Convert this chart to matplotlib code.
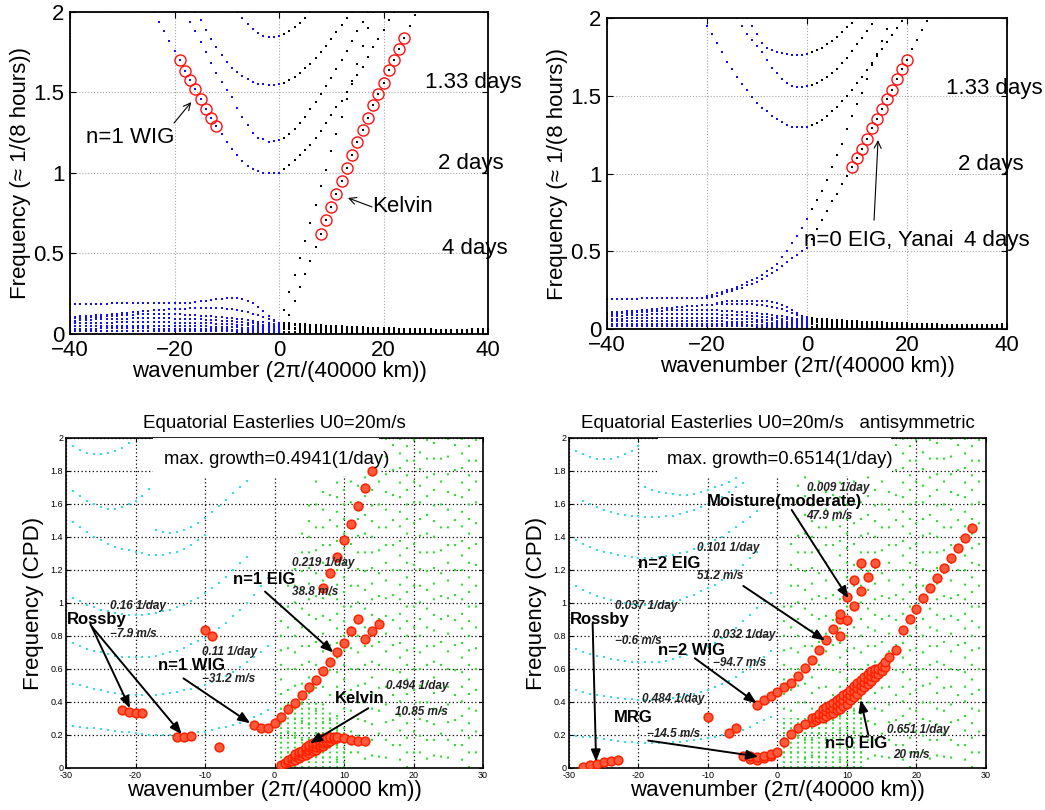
import numpy as np
import matplotlib.pyplot as plt
from matplotlib.patches import Rectangle

plt.rcParams['font.family'] = ['Liberation Sans', 'DejaVu Sans']

# every curve: (first wavenumber, frequencies at consecutive integer wavenumbers)

# ---------------- top left: symmetric shallow-water modes ----------------
tl_wig = [
    (-24, [2.00, 1.94, 1.88, 1.82, 1.76, 1.70, 1.635, 1.58, 1.52, 1.46, 1.40, 1.34, 1.29,
           1.24, 1.19, 1.15, 1.11, 1.075, 1.045, 1.025, 1.01, 1.0, 1.0, 1.0, 1.0]),
    (-18, [2.0, 1.94, 1.88, 1.815, 1.75, 1.685, 1.62, 1.565, 1.515, 1.47, 1.405, 1.345,
           1.30, 1.25, 1.22, 1.21, 1.195, 1.20, 1.205]),
    (-16, [2.0, 1.95, 1.89, 1.83, 1.78, 1.73, 1.69, 1.65, 1.63, 1.60, 1.585, 1.565, 1.555,
           1.55, 1.545, 1.545, 1.55]),
    (-8, [2.0, 1.96, 1.925, 1.895, 1.87, 1.85, 1.845, 1.845, 1.85]),
    (-40, [0.187, 0.187, 0.188, 0.188, 0.188, 0.189, 0.189, 0.189, 0.19, 0.19, 0.19,
           0.19, 0.19, 0.19, 0.19, 0.19, 0.19, 0.19, 0.19, 0.19, 0.19, 0.19,
           0.19, 0.195, 0.20, 0.203, 0.206, 0.21, 0.215, 0.22, 0.225, 0.225, 0.222,
           0.215, 0.205, 0.19, 0.17, 0.14, 0.11, 0.085, 0.07]),
]
tl_eig = [
    (1, [1.025, 1.05, 1.08, 1.11, 1.14, 1.175, 1.215, 1.26, 1.31, 1.36, 1.41, 1.45, 1.50,
         1.55, 1.61, 1.66, 1.72, 1.78, 1.83, 1.89, 1.95, 2.0]),
    (1, [1.22, 1.245, 1.275, 1.31, 1.35, 1.395, 1.44, 1.49, 1.54, 1.59, 1.645, 1.70, 1.76,
         1.82, 1.88, 1.94, 2.0]),
    (1, [1.56, 1.575, 1.595, 1.62, 1.65, 1.68, 1.715, 1.75, 1.79, 1.83, 1.875, 1.92, 1.965, 2.0]),
    (1, [1.865, 1.88, 1.905, 1.93, 1.965, 2.0]),
    (1, [0.15, 0.26, 0.365, 0.47, 0.58, 0.69, 0.80, 0.92, 1.02, 1.135, 1.24, 1.35, 1.46,
         1.57, 1.68, 1.79, 1.90, 2.0]),
]
tl_kelvin = (2, [0.12, 0.205, 0.29, 0.37, 0.455, 0.54, 0.62, 0.71, 0.79, 0.87, 0.95, 1.03,
                 1.11, 1.19, 1.27, 1.34, 1.42, 1.49, 1.56, 1.64, 1.70, 1.77, 1.84, 1.91, 1.98])
tl_wig_circles = list(range(-19, -11))
tl_kelvin_circles = list(range(8, 25))

# ---------------- top right: antisymmetric modes ----------------
tr_wig = [
    (-21, [2.0, 1.95, 1.90, 1.84, 1.78, 1.72, 1.67, 1.62, 1.575, 1.535, 1.495, 1.455,
           1.42, 1.40, 1.37, 1.35, 1.33, 1.313, 1.302, 1.298, 1.298, 1.30]),
    (-14, [2.0, 1.95, 1.90, 1.86, 1.82, 1.78, 1.73, 1.68, 1.645, 1.605, 1.58, 1.563,
           1.555, 1.553, 1.56]),
    (-12, [2.0, 1.95, 1.895, 1.84, 1.81, 1.795, 1.78, 1.773, 1.768, 1.762, 1.762, 1.765, 1.768]),
    (-40, [0.195, 0.195, 0.195, 0.196, 0.196, 0.196, 0.196, 0.197, 0.197, 0.197,
           0.197, 0.197, 0.197, 0.197, 0.197, 0.197, 0.197, 0.197, 0.198, 0.198]),
    (-18, [0.17, 0.174, 0.178, 0.18, 0.182, 0.183, 0.183, 0.183, 0.182, 0.18, 0.178,
           0.172, 0.165, 0.155, 0.14, 0.12, 0.10, 0.085, 0.075]),
    (-20, [0.21, 0.22, 0.23, 0.24, 0.25, 0.26, 0.27, 0.285, 0.30, 0.315, 0.33, 0.35,
           0.37, 0.39, 0.42, 0.46, 0.50, 0.55, 0.60, 0.65, 0.71]),
    (-20, [0.20, 0.205, 0.215, 0.225, 0.235, 0.245, 0.255, 0.265, 0.28, 0.29, 0.305,
           0.32, 0.34, 0.36, 0.38, 0.405, 0.43, 0.455, 0.475, 0.50, 0.52]),
]
tr_eig = [
    (1, [1.31, 1.325, 1.345, 1.37, 1.40, 1.43, 1.465, 1.50, 1.54, 1.58, 1.62, 1.665, 1.71,
         1.755, 1.80, 1.845, 1.89, 1.935, 1.98]),
    (1, [1.57, 1.585, 1.60, 1.62, 1.645, 1.675, 1.71, 1.745, 1.785, 1.83, 1.87, 1.915, 1.96, 2.0]),
    (1, [1.78, 1.795, 1.81, 1.83, 1.855, 1.88, 1.91, 1.94, 1.97, 2.0]),
    (1, [0.77, 0.83, 0.89, 0.96, 1.04, 1.12, 1.19, 1.285, 1.37, 1.45, 1.52, 1.61, 1.70,
         1.77, 1.85, 1.93, 2.0]),
]
tr_yanai = (1, [0.58, 0.64, 0.70, 0.76, 0.82, 0.87, 0.93, 0.985, 1.04, 1.10, 1.16, 1.22,
                1.29, 1.35, 1.415, 1.48, 1.54, 1.605, 1.67, 1.73, 1.80, 1.86, 1.92, 1.98])
tr_yanai_circles = list(range(9, 21))

# low-frequency bands seen in both top panels
band_west = [
    (-40, [0.105, 0.107, 0.109, 0.111, 0.113, 0.115, 0.117, 0.120, 0.123, 0.126,
           0.129, 0.132, 0.135, 0.138, 0.141, 0.144, 0.146, 0.148, 0.150, 0.152,
           0.154, 0.156, 0.158, 0.160, 0.161, 0.162, 0.163, 0.163, 0.162, 0.160,
           0.157, 0.153, 0.148, 0.142, 0.135, 0.126, 0.115, 0.103, 0.090, 0.078, 0.070]),
    (-40, [0.095, 0.097, 0.099, 0.101, 0.103, 0.105, 0.108, 0.110, 0.112, 0.114,
           0.116, 0.118, 0.120, 0.122, 0.123, 0.124, 0.125, 0.125, 0.125, 0.124,
           0.123, 0.122, 0.120, 0.118, 0.116, 0.114, 0.112, 0.110, 0.107, 0.104,
           0.101, 0.098, 0.094, 0.090, 0.086, 0.082, 0.077, 0.072, 0.067, 0.062, 0.058]),
    (-40, [0.080, 0.082, 0.084, 0.086, 0.088, 0.090, 0.091, 0.092, 0.093, 0.094,
           0.095, 0.096, 0.097, 0.097, 0.098, 0.098, 0.098, 0.098, 0.097, 0.097,
           0.096, 0.095, 0.094, 0.093, 0.092, 0.091, 0.089, 0.087, 0.085, 0.083,
           0.081, 0.078, 0.075, 0.072, 0.069, 0.066, 0.062, 0.058, 0.054, 0.050, 0.046]),
    (-40, [0.064, 0.065, 0.066, 0.067, 0.068, 0.069, 0.070, 0.071, 0.071, 0.072,
           0.072, 0.073, 0.073, 0.073, 0.073, 0.073, 0.073, 0.073, 0.072, 0.072,
           0.071, 0.070, 0.070, 0.069, 0.068, 0.067, 0.066, 0.065, 0.064, 0.062,
           0.061, 0.059, 0.057, 0.055, 0.053, 0.051, 0.048, 0.045, 0.042, 0.039, 0.035]),
    (-40, [0.048, 0.049, 0.049, 0.050, 0.050, 0.051, 0.051, 0.051, 0.052, 0.052,
           0.052, 0.052, 0.052, 0.052, 0.052, 0.052, 0.052, 0.051, 0.051, 0.051,
           0.050, 0.050, 0.049, 0.049, 0.048, 0.048, 0.047, 0.046, 0.045, 0.044,
           0.043, 0.042, 0.041, 0.039, 0.038, 0.036, 0.034, 0.032, 0.030, 0.027, 0.024]),
    (-40, [0.032, 0.032, 0.033, 0.033, 0.033, 0.033, 0.034, 0.034, 0.034, 0.034,
           0.034, 0.034, 0.034, 0.034, 0.034, 0.034, 0.033, 0.033, 0.033, 0.033,
           0.033, 0.032, 0.032, 0.032, 0.031, 0.031, 0.030, 0.030, 0.029, 0.029,
           0.028, 0.027, 0.026, 0.025, 0.024, 0.023, 0.022, 0.020, 0.019, 0.017, 0.015]),
    (-40, [0.019, 0.019, 0.019, 0.019, 0.020, 0.020, 0.020, 0.020, 0.020, 0.020,
           0.020, 0.020, 0.020, 0.020, 0.020, 0.020, 0.020, 0.020, 0.019, 0.019,
           0.019, 0.019, 0.019, 0.018, 0.018, 0.018, 0.018, 0.017, 0.017, 0.017,
           0.016, 0.016, 0.015, 0.015, 0.014, 0.013, 0.013, 0.012, 0.011, 0.010, 0.008]),
]
band_east = [
    (1, [0.068, 0.066, 0.064, 0.062, 0.060, 0.058, 0.056, 0.054, 0.052,
         0.050, 0.048, 0.047, 0.045, 0.044, 0.042, 0.041, 0.040, 0.038, 0.037,
         0.036, 0.035, 0.034, 0.033, 0.032, 0.031, 0.030, 0.029, 0.028, 0.028,
         0.027, 0.027, 0.026, 0.026, 0.026, 0.026, 0.027, 0.028, 0.029, 0.030, 0.032]),
    (1, [0.058, 0.056, 0.054, 0.052, 0.050, 0.048, 0.046, 0.044, 0.042,
         0.040, 0.039, 0.037, 0.036, 0.034, 0.033, 0.032, 0.031, 0.030, 0.029,
         0.028, 0.027, 0.026, 0.025, 0.024, 0.023, 0.022, 0.022, 0.021, 0.021,
         0.020, 0.020, 0.020, 0.020, 0.020, 0.020, 0.020, 0.021, 0.021, 0.022, 0.022]),
    (1, [0.044, 0.042, 0.040, 0.038, 0.036, 0.035, 0.033, 0.032, 0.031,
         0.030, 0.029, 0.028, 0.027, 0.026, 0.025, 0.024, 0.023, 0.022, 0.021,
         0.020, 0.019, 0.018, 0.018, 0.017, 0.017, 0.016, 0.016, 0.015, 0.015,
         0.015, 0.014, 0.014, 0.014, 0.014, 0.014, 0.014, 0.014, 0.015, 0.015, 0.015]),
    (1, [0.030, 0.029, 0.028, 0.027, 0.026, 0.025, 0.024, 0.023, 0.022,
         0.021, 0.020, 0.019, 0.018, 0.018, 0.017, 0.016, 0.016, 0.015, 0.015,
         0.014, 0.014, 0.013, 0.013, 0.012, 0.012, 0.011, 0.011, 0.011, 0.010,
         0.010, 0.010, 0.010, 0.009, 0.009, 0.009, 0.009, 0.009, 0.009, 0.009, 0.009]),
    (1, [0.015, 0.014, 0.014, 0.013, 0.013, 0.012, 0.012, 0.011, 0.011,
         0.010, 0.010, 0.010, 0.009, 0.009, 0.009, 0.008, 0.008, 0.008, 0.007,
         0.007, 0.007, 0.007, 0.006, 0.006, 0.006, 0.006, 0.005, 0.005, 0.005,
         0.005, 0.005, 0.005, 0.005, 0.004, 0.004, 0.004, 0.004, 0.004, 0.004, 0.004]),
]

# ---------------- bottom left: easterlies, symmetric ----------------
bl_cyan = [
    (-30, [1.98, 1.95, 1.93, 1.91, 1.90, 1.90, 1.91, 1.92, 1.94, 1.97, 2.0]),
    (-30, [1.72, 1.68, 1.65, 1.62, 1.60, 1.58, 1.57, 1.57, 1.58, 1.60, 1.62, 1.65, 1.69]),
    (-17, [1.44, 1.43, 1.425, 1.43, 1.44, 1.46, 1.485, 1.515, 1.55, 1.585, 1.625, 1.665,
           1.705, 1.74, 1.775, 1.80]),
    (-29, [1.49, 1.46, 1.43, 1.40, 1.38, 1.36, 1.34, 1.33, 1.32, 1.31, 1.30, 1.29, 1.29,
           1.29, 1.30, 1.31, 1.33, 1.35, 1.38, 1.41]),
    (-30, [1.05, 1.03, 1.01, 0.99, 0.975, 0.96, 0.95, 0.94, 0.935, 0.93, 0.93, 0.93, 0.935,
           0.94, 0.95, 0.96, 0.975, 0.99, 1.01, 1.03, 1.06, 1.09, 1.12, 1.16, 1.20, 1.24, 1.28]),
    (-30, [0.78, 0.76, 0.74, 0.72, 0.71, 0.70, 0.69, 0.68, 0.675, 0.67, 0.67, 0.67, 0.675,
           0.68, 0.69, 0.70, 0.71, 0.73, 0.75, 0.77, 0.79, 0.82, 0.85, 0.88, 0.92, 0.96, 1.0,
           1.05, 1.10, 1.15]),
    (-30, [0.52, 0.51, 0.50, 0.49, 0.48, 0.47, 0.46, 0.455, 0.45, 0.445, 0.44, 0.44, 0.44,
           0.445, 0.45, 0.455, 0.46, 0.47, 0.48, 0.49, 0.50, 0.52, 0.54, 0.56, 0.58, 0.61,
           0.64, 0.67, 0.70, 0.74]),
    (-30, [0.26, 0.255, 0.25, 0.245, 0.24, 0.235, 0.23, 0.225, 0.22, 0.215, 0.21, 0.205,
           0.20, 0.20, 0.20, 0.20, 0.20, 0.205, 0.21, 0.215, 0.22, 0.23, 0.24, 0.25, 0.26,
           0.27, 0.29, 0.31, 0.33, 0.35]),
]
bl_green_k = list(range(1, 30))
bl_green_top = [1.0, 1.15, 1.3, 1.5, 1.65, 1.8, 2.0, 2.0, 2.0, 2.0, 2.0, 2.0, 2.0, 2.0, 2.0,
                2.0, 2.0, 2.0, 2.0, 2.0, 2.0, 2.0, 2.0, 2.0, 2.0, 2.0, 2.0, 2.0, 2.0]
bl_gbar_k = list(range(1, 11))
bl_gbar_top = [0.36, 0.40, 0.42, 0.43, 0.42, 0.40, 0.38, 0.34, 0.30, 0.26]

bl_red_k = [-22, -21, -20, -19, -14, -13, -12, -10, -9, -8,
            -3, -2, -1, 0, 1, 2, 3, 4, 5, 6, 7, 8, 9,
            10, 11, 12, 13, 14, 15, 7, 8, 9, 10, 11, 12, 13, 14, 10, 11, 12, 13]
bl_red_f = [0.35, 0.34, 0.335, 0.335, 0.19, 0.19, 0.195, 0.835, 0.80, 0.125,
            0.26, 0.245, 0.245, 0.27, 0.31, 0.355, 0.395, 0.44, 0.49, 0.535, 0.585, 0.64, 0.70,
            0.76, 0.83, 0.90, 0.78, 0.83, 0.875, 1.09, 1.18, 1.28, 1.38, 1.48, 1.59, 1.695, 1.80,
            0.18, 0.17, 0.165, 0.165]
bl_blob_k = [1, 1.5, 2, 2, 2.5, 2.5, 3, 3, 3, 3.5, 3.5, 3.5, 4, 4, 4, 4.5, 4.5, 4.5, 4.5,
             5, 5, 5, 5, 5.5, 5.5, 5.5, 5.5, 6, 6, 6, 6, 6.5, 6.5, 6.5, 6.5, 7, 7, 7, 7,
             7.5, 7.5, 7.5, 8, 8, 8, 8.5, 8.5, 9, 9]
bl_blob_f = [0.02, 0.03, 0.035, 0.05, 0.045, 0.06, 0.05, 0.07, 0.085, 0.06, 0.08, 0.095,
             0.07, 0.09, 0.105, 0.08, 0.10, 0.115, 0.13, 0.09, 0.11, 0.125, 0.14,
             0.10, 0.12, 0.135, 0.15, 0.11, 0.13, 0.145, 0.16, 0.125, 0.14, 0.155, 0.17,
             0.135, 0.15, 0.165, 0.18, 0.15, 0.165, 0.18, 0.165, 0.18, 0.19, 0.175, 0.19,
             0.18, 0.19]

# ---------------- bottom right: easterlies, antisymmetric ----------------
br_cyan = [
    (-30, [1.95, 1.92, 1.90, 1.885, 1.875, 1.87, 1.875, 1.885, 1.90, 1.92, 1.95]),
    (-19, [1.70, 1.685, 1.675, 1.665, 1.66, 1.655, 1.655, 1.66, 1.67, 1.685, 1.70, 1.715,
           1.735, 1.755, 1.775, 1.80, 1.825, 1.85]),
    (-28, [1.62, 1.60, 1.58, 1.565, 1.55, 1.54, 1.535, 1.53, 1.525, 1.52, 1.52, 1.52,
           1.525, 1.53, 1.54, 1.55, 1.565, 1.58, 1.60, 1.62, 1.645, 1.67, 1.70, 1.73]),
    (-30, [1.40, 1.38, 1.36, 1.34, 1.32, 1.31, 1.30, 1.29, 1.285, 1.28, 1.275, 1.275, 1.275,
           1.28, 1.285, 1.29, 1.30, 1.31, 1.325, 1.34, 1.36, 1.38, 1.40, 1.43, 1.46, 1.49,
           1.52, 1.56]),
    (-30, [1.12, 1.10, 1.08, 1.06, 1.045, 1.03, 1.02, 1.01, 1.0, 0.995, 0.99, 0.99, 0.99,
           0.995, 1.0, 1.01, 1.02, 1.035, 1.05, 1.07, 1.09, 1.11, 1.14, 1.17, 1.20, 1.23,
           1.27, 1.31]),
    (-30, [0.74, 0.72, 0.70, 0.69, 0.68, 0.67, 0.66, 0.655, 0.65, 0.645, 0.64, 0.64, 0.64,
           0.645, 0.65, 0.66, 0.67, 0.685, 0.70, 0.72, 0.74, 0.76, 0.79, 0.82, 0.85, 0.89,
           0.93, 0.97, 1.01, 1.06]),
    (-30, [0.48, 0.47, 0.46, 0.45, 0.44, 0.435, 0.43, 0.425, 0.42, 0.415, 0.41, 0.41, 0.41,
           0.415, 0.42, 0.425, 0.43, 0.44, 0.45, 0.46, 0.475, 0.49, 0.51, 0.53, 0.55, 0.58,
           0.61, 0.64, 0.67, 0.71]),
    (-30, [0.20, 0.195, 0.19, 0.185, 0.18, 0.175, 0.17, 0.165, 0.16, 0.155, 0.15, 0.15, 0.15,
           0.15, 0.15, 0.155, 0.16, 0.165, 0.17, 0.175, 0.18, 0.19, 0.20, 0.21, 0.22, 0.23,
           0.25, 0.27, 0.29, 0.31]),
]
br_green_k = list(range(1, 30))
br_green_top = [1.0, 1.4, 1.9, 2.0, 2.0, 2.0, 2.0, 2.0, 2.0, 2.0, 2.0, 2.0, 2.0, 2.0, 2.0,
                2.0, 2.0, 2.0, 2.0, 2.0, 2.0, 2.0, 2.0, 2.0, 2.0, 2.0, 2.0, 2.0, 2.0]
br_gbar_k = list(range(1, 13))
br_gbar_top = [0.30, 0.30, 0.30, 0.30, 0.30, 0.32, 0.34, 0.36, 0.38, 0.40, 0.42, 0.44]

br_red_k = [-28, -27, -26, -25, -24, -23, -10, -7, -6,
            -5, -4, -4, -3, -3, -2, -2, -1, -1, 0, 1, 2, 3, 4,
            16, 17, 18, 19, 20, 21, 22, 23, 24, 25, 26, 27, 28,
            -3, -2, -1, 0, 1, 2, 3, 4, 5, 6, 7,
            8, 9, 9, 9, 10, 10, 11, 11, 12, 12, 13, 14]
br_red_f = [0.005, 0.015, 0.025, 0.035, 0.042, 0.048, 0.31, 0.21, 0.245,
            0.073, 0.053, 0.07, 0.048, 0.065, 0.059, 0.075, 0.073, 0.085, 0.099,
            0.156, 0.204, 0.24, 0.265,
            0.675, 0.715, 0.835, 0.90, 0.965, 1.03, 1.09, 1.15, 1.21, 1.275, 1.335, 1.395, 1.455,
            0.38, 0.41, 0.435, 0.46, 0.49, 0.515, 0.56, 0.605, 0.655, 0.715, 0.775,
            0.84, 0.80, 0.90, 0.935, 0.895, 1.035, 0.98, 1.14, 1.07, 1.24, 1.155, 1.24]
br_blob_k = [5, 5, 5.5, 5.5, 6, 6, 6.5, 6.5, 6.5, 7, 7, 7, 7.5, 7.5, 7.5, 8, 8, 8,
             8.5, 8.5, 8.5, 9, 9, 9, 9.5, 9.5, 9.5, 10, 10, 10, 10.5, 10.5, 10.5,
             11, 11, 11, 11.5, 11.5, 11.5, 12, 12, 12, 12.5, 12.5, 12.5, 13, 13, 13,
             13.5, 13.5, 13.5, 14, 14, 14, 14.5, 14.5, 15, 15, 15.5, 15.5]
br_blob_f = [0.28, 0.30, 0.29, 0.31, 0.30, 0.33, 0.30, 0.33, 0.355, 0.315, 0.345, 0.37,
             0.325, 0.355, 0.38, 0.335, 0.365, 0.395, 0.35, 0.38, 0.41, 0.36, 0.395, 0.425,
             0.375, 0.41, 0.44, 0.39, 0.425, 0.455, 0.41, 0.445, 0.475, 0.43, 0.465, 0.495,
             0.45, 0.485, 0.515, 0.47, 0.505, 0.535, 0.49, 0.52, 0.55, 0.51, 0.54, 0.57,
             0.53, 0.56, 0.585, 0.55, 0.575, 0.60, 0.57, 0.60, 0.59, 0.62, 0.61, 0.64]

# text labels: (text, wavenumber, frequency, kind)
bl_labels = [
    ('0.219 1/day', 2.47, 1.24, 's'), ('n=1 EIG', -5.93, 1.14, 'm'),
    ('38.8 m/s', 2.47, 1.069, 's'), ('0.16 1/day', -23.7, 0.982, 's'),
    ('Rossby', -29.9, 0.897, 'm'), ('\u22127.9 m/s', -23.7, 0.81, 's'),
    ('0.11 1/day', -10.5, 0.70, 's'), ('n=1 WIG', -16.7, 0.618, 'm'),
    ('\u221231.2 m/s', -10.5, 0.537, 's'), ('0.494 1/day', 16.1, 0.499, 's'),
    ('Kelvin', 8.7, 0.418, 'm'), ('10.85 m/s', 17.3, 0.341, 's'),
]
bl_arrows = [((-26.5, 0.873), (-20.8, 0.362)), ((-26.3, 0.857), (-13.35, 0.204)),
             ((-1.37, 1.069), (8.46, 0.70)), ((-13.1, 0.543), (-3.5, 0.271)),
             ((13.5, 0.362), (5.1, 0.15))]
br_labels = [
    ('0.009 1/day', 4.2, 1.695, 's'), ('Moisture(moderate)', -10.2, 1.614, 'm'),
    ('47.9 m/s', 4.2, 1.527, 's'), ('0.101 1/day', -11.6, 1.331, 's'),
    ('n=2 EIG', -20.0, 1.24, 'm'), ('51.2 m/s', -11.6, 1.164, 's'),
    ('0.037 1/day', -23.4, 0.982, 's'), ('Rossby', -29.86, 0.897, 'm'),
    ('0.032 1/day', -9.24, 0.806, 's'), ('\u22120.6 m/s', -23.4, 0.772, 's'),
    ('n=2 WIG', -17.15, 0.711, 'm'), ('\u221294.7 m/s', -9.24, 0.634, 's'),
    ('0.484 1/day', -19.5, 0.416, 's'), ('MRG', -23.6, 0.307, 'm'),
    ('\u221214.5 m/s', -18.8, 0.204, 's'), ('0.651 1/day', 15.7, 0.23, 's'),
    ('n=0 EIG', 6.83, 0.15, 'm'), ('20 m/s', 16.7, 0.079, 's'),
]
br_arrows = [((2.04, 1.564), (10.2, 1.028)), ((-4.92, 1.103), (6.83, 0.772)),
             ((-11.9, 0.665), (-3.0, 0.392)), ((-26.6, 0.877), (-26.1, 0.038)),
             ((-18.6, 0.166), (-2.76, 0.069)), ((13.07, 0.20), (11.97, 0.412))]

# irregular dot spacing for the green columns (style only)
green_styles = [(0, (1, 6)), (3, (1, 9)), (1, (1, 7)), (5, (1, 8)), (2, (1, 6.5)),
                (6, (1, 10)), (4, (1, 7.5)), (1.5, (1, 11)), (3.5, (1, 6))]


def curve_xy(curve):
    k0, vals = curve
    return np.arange(k0, k0 + len(vals)), np.array(vals)


def lookup(curve, ks):
    k0, vals = curve
    return [vals[k - k0] for k in ks]


def dots(ax, curves, color, ms=1.7, z=2):
    for c in curves:
        k, f = curve_xy(c)
        ax.plot(k, f, ls='none', marker='s', ms=ms, mew=0, color=color, zorder=z)


def setup_top(ax):
    ax.set_xlim(-40, 40)
    ax.set_ylim(0, 2)
    ax.set_xticks([-40, -20, 0, 20, 40])
    ax.set_xticklabels(['\u221240', '\u221220', '0', '20', '40'])
    ax.set_yticks([0, 0.5, 1, 1.5, 2])
    ax.set_yticklabels(['0', '0.5', '1', '1.5', '2'])
    ax.tick_params(direction='in', length=4, labelsize=16, top=True, right=True, pad=4)
    ax.grid(True, color='#a8a8a8', ls=':', lw=0.8)
    ax.set_axisbelow(True)
    for s in ax.spines.values():
        s.set_linewidth(1.3)
    ax.set_xlabel('wavenumber (2\u03c0/(40000 km))', fontsize=16, labelpad=0)
    ax.set_ylabel('Frequency (\u2248 1/(8 hours))', fontsize=16, labelpad=2)


def setup_bottom(ax, title):
    ax.set_xlim(-30, 30)
    ax.set_ylim(0, 2)
    ax.set_xticks(range(-30, 31, 10))
    ax.set_xticklabels(['-30', '-20', '-10', '0', '10', '20', '30'])
    yt = [0, 0.2, 0.4, 0.6, 0.8, 1, 1.2, 1.4, 1.6, 1.8, 2]
    ax.set_yticks(yt)
    ax.set_yticklabels(['0', '0.2', '0.4', '0.6', '0.8', '1', '1.2', '1.4', '1.6', '1.8', '2'])
    ax.tick_params(direction='in', length=3, labelsize=6.5, top=True, right=True, pad=2)
    ax.grid(True, color='k', ls=(0, (1, 2)), lw=0.9)
    ax.set_axisbelow(True)
    for s in ax.spines.values():
        s.set_linewidth(1.2)
    ax.set_title(title, fontsize=13.5, pad=7)
    ax.set_xlabel('wavenumber (2\u03c0/(40000 km))', fontsize=16, labelpad=0)
    ax.set_ylabel('Frequency (CPD)', fontsize=16, labelpad=5)


def bottom_marks(ax, cyan, gk, gtop, bk, btop, rk, rf, blk, blf):
    for i, (k, t) in enumerate(zip(gk, gtop)):
        ax.vlines(k, 0, t, colors='#2ee02e', lw=1.5,
                  linestyles=[green_styles[i % len(green_styles)]], zorder=1)
    ax.vlines(bk, 0, btop, colors='#2ee02e', lw=1.4, linestyles=[(0, (1, 1.5))], zorder=1)
    dots(ax, cyan, '#30dcee', ms=2.0, z=1.5)
    ax.plot(blk, blf, ls='none', marker='o', ms=6.3, mfc='#ff5a3c', mec='#ff2200', mew=1.1, zorder=6)
    ax.plot(rk, rf, ls='none', marker='o', ms=6.3, mfc='#ff5a3c', mec='#ff2200', mew=1.1, zorder=6)


def bottom_text(ax, labels, arrows, growth, gx, box):
    ax.add_patch(Rectangle((box[0], 1.77), box[1] - box[0], 0.24, fc='white', ec='none', zorder=4))
    ax.text(gx, 1.871, growth, ha='center', va='center', fontsize=13.3, zorder=7)
    for txt, x, y, kind in labels:
        if kind == 'm':
            ax.text(x, y, txt, fontsize=12, fontweight='bold', va='center', zorder=7)
        else:
            ax.text(x, y, txt, fontsize=8.5, fontweight='bold', style='italic', va='center',
                    color='#222222', zorder=7)
    for tail, tip in arrows:
        ax.annotate('', xy=tip, xytext=tail, zorder=8,
                    arrowprops=dict(arrowstyle='-|>,head_length=0.7,head_width=0.28', lw=1.4,
                                    color='k', shrinkA=0, shrinkB=0))


fig = plt.figure(figsize=(10.45, 8.1), dpi=100)
ax_tl = fig.add_axes([0.0670, 0.5877, 0.4000, 0.3975])
ax_tr = fig.add_axes([0.5809, 0.5938, 0.3828, 0.3840])
ax_bl = fig.add_axes([0.0632, 0.0519, 0.3990, 0.4074])
ax_br = fig.add_axes([0.5445, 0.0519, 0.3990, 0.4074])

arrow_thin = dict(arrowstyle='->,head_length=0.5,head_width=0.25', lw=0.8, color='k',
                  shrinkA=0, shrinkB=0)

# top left
setup_top(ax_tl)
dots(ax_tl, tl_wig + band_west, '#1010ff')
dots(ax_tl, tl_eig + [tl_kelvin] + band_east, 'k')
ax_tl.plot(tl_wig_circles, lookup(tl_wig[0], tl_wig_circles), ls='none', marker='o', ms=8,
           mfc='none', mec='#ff1010', mew=1.0, zorder=3)
ax_tl.plot(tl_kelvin_circles, lookup(tl_kelvin, tl_kelvin_circles), ls='none', marker='o', ms=8,
           mfc='none', mec='#ff1010', mew=1.0, zorder=3)
ax_tl.text(-36.9, 1.22, 'n=1 WIG', fontsize=16, va='center')
ax_tl.annotate('', xy=(-16.8, 1.44), xytext=(-20.1, 1.31), arrowprops=arrow_thin)
ax_tl.text(17.9, 0.79, 'Kelvin', fontsize=16, va='center')
ax_tl.annotate('', xy=(13.2, 0.845), xytext=(17.8, 0.789), arrowprops=arrow_thin)
ax_tl.text(27.9, 1.56, '1.33 days', fontsize=16, va='center')
ax_tl.text(30.4, 1.06, '2 days', fontsize=16, va='center')
ax_tl.text(31.1, 0.53, '4 days', fontsize=16, va='center')

# top right
setup_top(ax_tr)
dots(ax_tr, tr_wig + band_west, '#1010ff')
dots(ax_tr, tr_eig + [tr_yanai] + band_east, 'k')
ax_tr.plot(tr_yanai_circles, lookup(tr_yanai, tr_yanai_circles), ls='none', marker='o', ms=8,
           mfc='none', mec='#ff1010', mew=1.0, zorder=3)
ax_tr.text(-0.6, 0.572, 'n=0 EIG, Yanai', fontsize=16, va='center')
ax_tr.annotate('', xy=(14.2, 1.215), xytext=(13.4, 0.70), arrowprops=arrow_thin)
ax_tr.text(27.8, 1.548, '1.33 days', fontsize=16, va='center')
ax_tr.text(30.1, 1.06, '2 days', fontsize=16, va='center')
ax_tr.text(31.3, 0.572, '4 days', fontsize=16, va='center')

# bottom left
setup_bottom(ax_bl, 'Equatorial Easterlies U0=20m/s')
bottom_marks(ax_bl, bl_cyan, bl_green_k, bl_green_top, bl_gbar_k, bl_gbar_top,
             bl_red_k, bl_red_f, bl_blob_k, bl_blob_f)
bottom_text(ax_bl, bl_labels, bl_arrows, 'max. growth=0.4941(1/day)', 0.3, (-17.5, 15.0))

# bottom right
setup_bottom(ax_br, 'Equatorial Easterlies U0=20m/s   antisymmetric')
bottom_marks(ax_br, br_cyan, br_green_k, br_green_top, br_gbar_k, br_gbar_top,
             br_red_k, br_red_f, br_blob_k, br_blob_f)
bottom_text(ax_br, br_labels, br_arrows, 'max. growth=0.6514(1/day)', 0.36, (-17.2, 16.4))

fig.savefig('out.png', dpi=100)
